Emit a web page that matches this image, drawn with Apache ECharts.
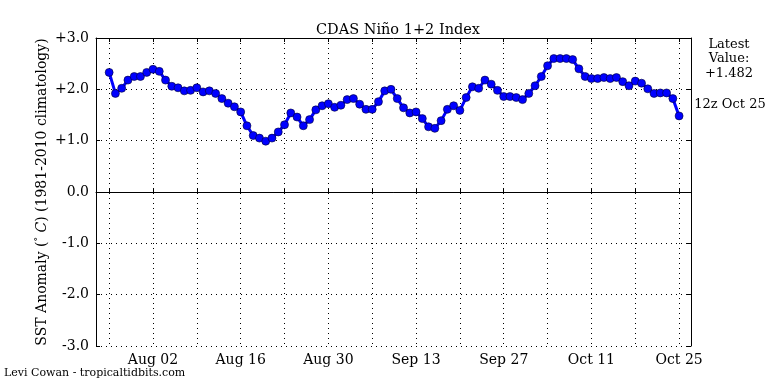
<!DOCTYPE html>
<html>
<head>
<meta charset="utf-8">
<script src="https://cdn.jsdelivr.net/npm/echarts@6/dist/echarts.min.js"></script>
<style>html,body{margin:0;padding:0;background:#fff}#c{width:768px;height:384px}</style>
</head>
<body>
<div id="c"></div>
<script>
// Day 0 = Jul 26
const values = [
  2.33,1.92,2.02,2.18,2.25,2.25,
  2.33,2.39,2.35,2.18,2.06,2.03,1.97,1.98,2.03,1.95,1.97,1.92,1.82,1.73,1.66,1.56,1.29,1.10,1.05,0.99,1.05,1.17,1.31,1.54,1.46,1.29,1.41,1.60,1.68,1.72,1.65,
  1.69,1.80,1.82,1.71,1.61,1.61,1.76,1.97,2.00,1.82,1.64,1.54,1.56,1.43,1.27,1.24,1.39,1.61,1.68,1.59,1.84,2.05,2.02,2.18,2.10,1.98,1.86,1.86,1.84,1.80,
  1.92,2.07,2.25,2.46,2.60,2.60,2.60,2.58,2.40,2.25,2.21,2.21,2.23,2.21,2.23,2.15,2.07,2.16,2.12,2.01,1.92,1.93,1.93,1.82,1.482
];
const tickDays = [0,7,14,21,28,35,42,49,56,63,70,77,84,91];
const labelDays = [7,21,35,49,63,77,91];
const tickLabels = ['Aug 02','Aug 16','Aug 30','Sep 13','Sep 27','Oct 11','Oct 25'];
const yTickLabels = {'3':'+3.0','2':'+2.0','1':'+1.0','0':'0.0','-1':'-1.0','-2':'-2.0','-3':'-3.0'};
const titleText = 'CDAS Niño 1+2 Index';
const latestDate = '12z Oct 25';
const credit = 'Levi Cowan - tropicaltidbits.com';
const yName = '{a|SST Anomaly (}{s|°}{i| C}{a|) (1981-2010 climatology)}';

const F = 'DejaVu Serif';
const seriesData = values.map((v, i) => [i, v]);
const latest = values[values.length - 1];
const latestStr = (latest >= 0 ? '+' : '') + latest.toFixed(3);

const chart = echarts.init(document.getElementById('c'), null, {renderer: 'canvas'});
const dotted = {show: true, lineStyle: {color: '#000', width: 1, type: [1, 4]}};
chart.setOption({
  animation: false,
  backgroundColor: '#fff',
  title: {
    text: titleText, left: 393, top: 18, textAlign: 'center',
    textStyle: {fontFamily: F, fontSize: 14.5, fontWeight: 'normal', color: '#000'}
  },
  grid: {left: 96, right: 77, top: 38, bottom: 38, containLabel: false},
  xAxis: [{
    type: 'value', min: -2.1, max: 92.9, position: 'bottom',
    axisLine: {show: true, lineStyle: {color: '#000', width: 1}},
    axisTick: {show: true, inside: true, length: 4, lineStyle: {color: '#000'}, customValues: tickDays},
    axisLabel: {
      show: true, customValues: labelDays, margin: 7,
      fontFamily: F, fontSize: 14, color: '#000',
      formatter: v => tickLabels[labelDays.indexOf(Math.round(v))] || ''
    },
    splitLine: dotted
  }, {
    type: 'value', min: -2.1, max: 92.9, position: 'top',
    axisLine: {show: true, onZero: false, lineStyle: {color: '#000', width: 1}},
    axisTick: {show: true, inside: true, length: 4, lineStyle: {color: '#000'}, customValues: tickDays},
    axisLabel: {show: false},
    splitLine: {show: false}
  }],
  yAxis: [{
    type: 'value', min: -3, max: 3, interval: 1, position: 'left',
    axisLine: {show: true, onZero: false, lineStyle: {color: '#000', width: 1}},
    axisTick: {show: true, inside: true, length: 4, lineStyle: {color: '#000'}},
    axisLabel: {
      fontFamily: F, fontSize: 14, color: '#000', margin: 7,
      formatter: v => yTickLabels[String(Math.round(v))]
    },
    splitLine: dotted
  }, {
    type: 'value', min: -3, max: 3, interval: 1, position: 'right',
    axisLine: {show: true, onZero: false, lineStyle: {color: '#000', width: 1}},
    axisTick: {show: true, inside: true, length: 4, lineStyle: {color: '#000'}},
    axisLabel: {show: false},
    splitLine: {show: false}
  }],
  series: [{
    type: 'line', data: seriesData, xAxisIndex: 0, yAxisIndex: 0,
    symbol: 'circle', symbolSize: 8, showSymbol: true,
    lineStyle: {color: '#0000ff', width: 3},
    itemStyle: {color: '#0000ff', borderColor: '#000033', borderWidth: 0.6},
    markLine: {
      silent: true, symbol: 'none', label: {show: false},
      lineStyle: {color: '#000', width: 1, type: 'solid'},
      data: [{yAxis: 0}]
    },
    z: 5
  }],
  graphic: [
    {type: 'text', left: 4, top: 368, style: {text: credit, fontFamily: F, fontSize: 11, fill: '#000'}},
    {type: 'text', x: 729, y: 37, style: {text: 'Latest\nValue:\n' + latestStr, fontFamily: F, fontSize: 13, lineHeight: 14.5, fill: '#000', align: 'center'}},
    {type: 'text', x: 730, y: 98, style: {text: latestDate, fontFamily: F, fontSize: 13, fill: '#000', align: 'center'}},
    {type: 'text', x: 42, y: 192, rotation: Math.PI / 2,
     style: {
       text: yName, align: 'center', verticalAlign: 'middle', fontFamily: F, fontSize: 14, fill: '#000',
       rich: {
         a: {fontFamily: F, fontSize: 14, fill: '#000'},
         s: {fontFamily: F, fontSize: 9, fill: '#000', verticalAlign: 'top', padding: [0, 0, 6, 0]},
         i: {fontFamily: F, fontSize: 14, fill: '#000', fontStyle: 'italic'}
       }
     }}
  ]
});
</script>
</body>
</html>
